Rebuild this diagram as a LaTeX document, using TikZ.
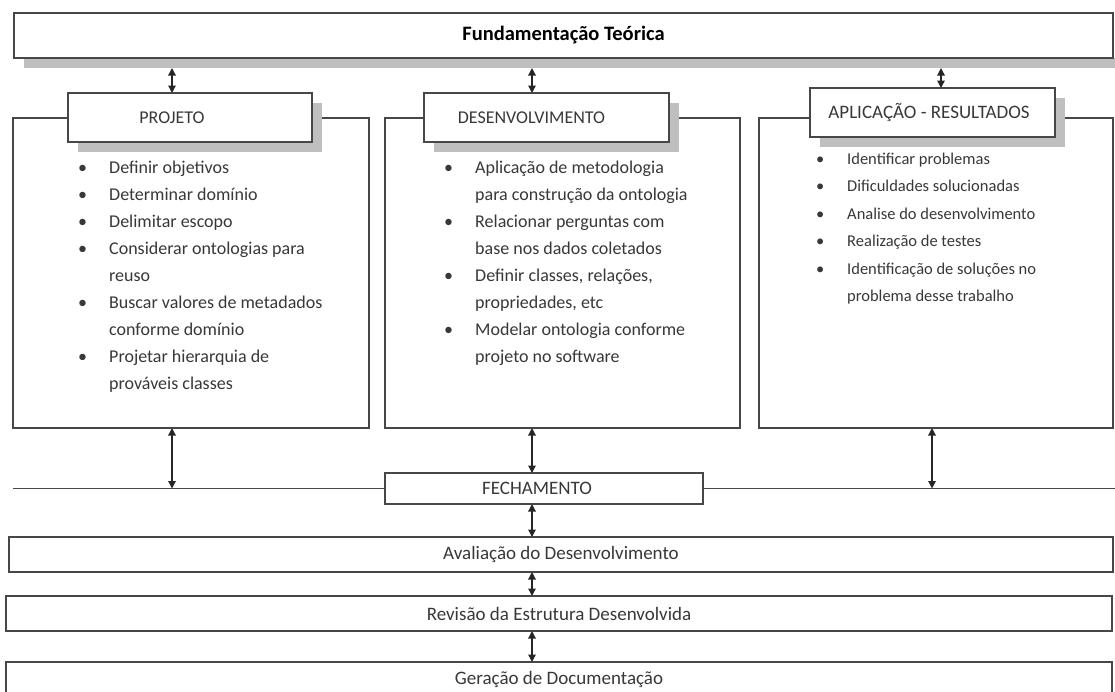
\documentclass[tikz,border=0pt]{standalone}
\usepackage{fontspec}
\setmainfont{Carlito}
\usetikzlibrary{arrows.meta}
\newcommand\bul{\makebox[31pt][l]{\textbullet}}
\newcommand\ind{\hspace*{31pt}}
\begin{document}
\begin{tikzpicture}[x=1pt,y=-1pt,
  ln/.style={draw=black!72, line width=1.3pt},
  box/.style={ln, fill=white, inner sep=0pt, outer sep=0pt},
  shade/.style={fill=black!25, draw=none},
  dbl/.style={black!85, line width=1.3pt, {Triangle[length=7.5pt,width=7.5pt]}-{Triangle[length=7.5pt,width=7.5pt]}},
  txt/.style={font=\fontsize{18}{21}\selectfont, text=black!78},
  big/.style={font=\fontsize{19}{22}\selectfont, text=black!78},
  lst/.style={font=\fontsize{18}{27}\selectfont, text=black!78, align=left, anchor=north west, inner sep=0pt},
]
\useasboundingbox (0,0) rectangle (1115,691);
% top box
\fill[shade] (24,58) rectangle (1125,68);
\node[box, minimum width=1099, minimum height=45, font=\bfseries\fontsize{20.5}{24}\selectfont, text=black] (fund) at (563.5,35.5) {Fundamentação Teórica};
% panels
\node[box, minimum width=356, minimum height=310] (p1) at (191,273) {};
\node[box, minimum width=355, minimum height=310] (p2) at (562.5,273) {};
\node[box, minimum width=354, minimum height=310] (p3) at (936,273) {};
% header shadows
\fill[shade] (78,103) rectangle (322,152);
\fill[shade] (434,103) rectangle (679,152);
\fill[shade] (820,98) rectangle (1065,147);
% header boxes
\node[box, txt, minimum width=244, minimum height=49] (pj) at (190,117.5) {PROJETO\hspace*{36pt}};
\node[box, txt, minimum width=245, minimum height=49] (dv) at (546.5,117.5) {DESENVOLVIMENTO\hspace*{30pt}};
\node[box, txt, minimum width=245, minimum height=49, font=\fontsize{19}{22}\selectfont] (ap) at (932.5,112.5) {APLICAÇÃO - RESULTADOS\hspace*{7pt}};
% lists
\node[lst] (l1) at (78,161) {\bul Definir objetivos\\ \bul Determinar domínio\\ \bul Delimitar escopo\\ \bul Considerar ontologias para\\ \ind reuso\\ \bul Buscar valores de metadados\\ \ind conforme domínio\\ \bul Projetar hierarquia de\\ \ind prováveis classes};
\node[lst] (l2) at (444,161) {\bul Aplicação de metodologia\\ \ind para construção da ontologia\\ \bul Relacionar perguntas com\\ \ind base nos dados coletados\\ \bul Definir classes, relações,\\ \ind propriedades, etc\\ \bul Modelar ontologia conforme\\ \ind projeto no software};
\node[lst, font=\fontsize{16.5}{27.5}\selectfont] (l3) at (816,152.5) {\bul Identificar problemas\\ \bul Dificuldades solucionadas\\ \bul Analise do desenvolvimento\\ \bul Realização de testes\\ \bul Identificação de soluções no\\ \ind problema desse trabalho};
% fechamento and line
\node[box, big, minimum width=318, minimum height=31] (fech) at (544,488.5) {FECHAMENTO\hspace*{14pt}};
\coordinate (lineL) at (13,488.5);
\coordinate (lineR) at (1120,488.5);
\draw[ln] (lineL) -- (fech.west);
\draw[ln] (fech.east) -- (lineR);
% lower boxes
\node[box, big, minimum width=1104, minimum height=35] (aval) at (561,554.5) {Avaliação do Desenvolvimento};
\node[box, big, minimum width=1106, minimum height=35] (rev) at (559,613.5) {Revisão da Estrutura Desenvolvida};
\node[box, big, minimum width=1106, minimum height=35] (ger) at (559,679.5) {Geração de Documentação};
% arrow columns
\coordinate (c1) at (172,0);
\coordinate (c2) at (532,0);
\coordinate (c3) at (941,0);
\coordinate (c3b) at (932,0);
% arrows
\draw[dbl] ([yshift=-10pt]fund.south -| c1) -- (pj.north -| c1);
\draw[dbl] ([yshift=-10pt]fund.south -| c2) -- (dv.north -| c2);
\draw[dbl] ([yshift=-10pt]fund.south -| c3) -- (ap.north -| c3);
\draw[dbl] (p1.south -| c1) -- (lineL -| c1);
\draw[dbl] (p2.south -| c2) -- (fech.north -| c2);
\draw[dbl] (p3.south -| c3b) -- (lineR -| c3b);
\draw[dbl] (fech.south -| c2) -- (aval.north -| c2);
\draw[dbl] (aval.south -| c2) -- (rev.north -| c2);
\draw[dbl] (rev.south -| c2) -- (ger.north -| c2);
\end{tikzpicture}
\end{document}
